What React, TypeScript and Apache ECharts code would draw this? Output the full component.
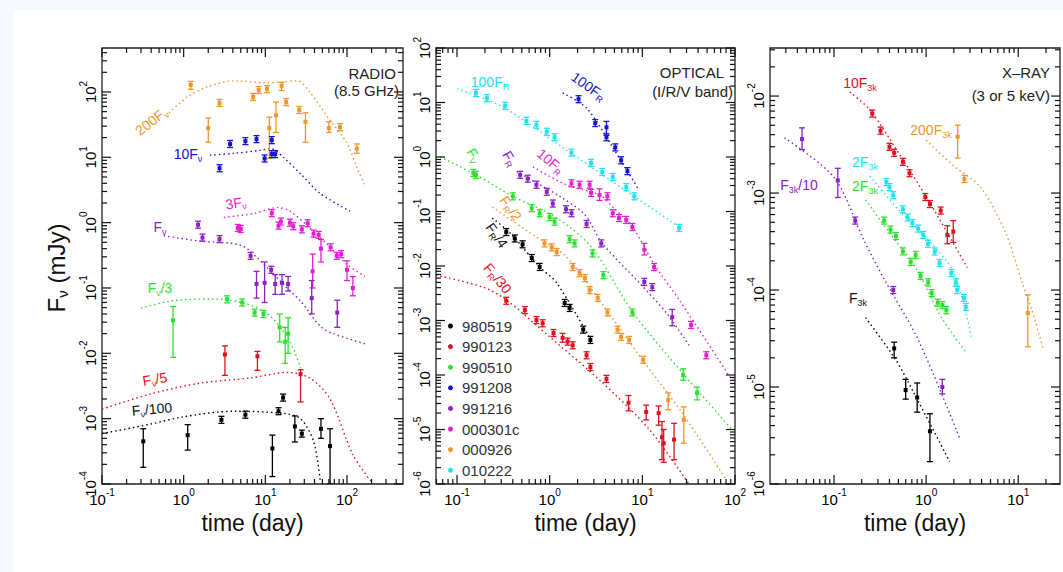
import React, { useEffect, useRef } from 'react';
import * as echarts from 'echarts';

const FONT = '"Liberation Sans", Arial, Helvetica, sans-serif';

// ---------- datasets ----------
const GRB_NAMES = ['980519', '990123', '990510', '991208', '991216', '000301c', '000926', '010222'];
const GRB_COLORS = ['#000000', '#e0101e', '#2ee02e', '#1414d0', '#8a22c4', '#e41ed0', '#f0962a', '#22e2f0'];

// axis ranges [min, max]
const RADIO_X = [0.1, 485];
const RADIO_Y = [1e-4, 471];
const OPT_X = [0.0593, 100];
const OPT_Y = [1e-6, 100];
const XR_X = [0.0202, 28.4];
const XR_Y = [1e-6, 0.0313];

// ---- RADIO (8.5 GHz) : curves [t, F], points [t, F, lo, hi]
const radio_000926_curve = [[0.66, 48], [1.12, 84], [1.96, 120], [4.1, 148], [10.5, 138], [16.6, 143], [24.6, 148], [35, 100], [62, 37], [100, 16.5], [132, 7], [166, 3.7]];
const radio_000926_pts = [[1.22, 128, 110, 145], [2.75, 68], [2.0, 28, 17, 40], [7.1, 84], [8.3, 107], [10.5, 112, 98, 125], [15.8, 124, 105, 140], [18, 70], [11.2, 28, 9.6, 41], [13.5, 44, 24, 70], [26, 53], [31, 35, 17, 48], [60, 28, 24, 35], [82, 29], [132, 13.5, 11.5, 16]];
const radio_991208_curve = [[2.1, 10.8], [4.1, 11.5], [8.7, 12.8], [11.5, 13.7], [16.6, 10], [26.6, 5.7], [47, 2.8], [109, 1.5]];
const radio_991208_pts = [[2.75, 6.8], [3.7, 16], [5.7, 17.7], [7.8, 19], [9.8, 9.6], [12, 18.3], [12, 11.2], [13.2, 11.2]];
const radio_000301c_curve = [[3.1, 1.2], [7.1, 1.38], [14, 1.7], [20, 1.5], [35, 0.83], [62, 0.42], [100, 0.23], [166, 0.15]];
const radio_000301c_pts = [[4.6, 0.83], [5.0, 0.8], [12, 1.4], [14.5, 0.9], [15.5, 1.04], [20, 1.0], [22, 0.88], [28, 0.79], [33, 0.98], [39, 0.68], [45, 0.65], [48, 0.4, 0.25, 0.55], [63, 0.42], [75, 0.31], [85, 0.33], [100, 0.19, 0.13, 0.26], [38, 0.18, 0.1, 0.33], [118, 0.1, 0.076, 0.15]];
const radio_991216_curve = [[0.57, 0.63], [1.6, 0.52], [5, 0.45], [8.7, 0.26], [17, 0.11], [27, 0.063], [47, 0.026], [68, 0.02], [166, 0.014]];
const radio_991216_pts = [[1.5, 0.93], [1.7, 0.59], [2.75, 0.56], [6.6, 0.31], [7.8, 0.115, 0.07, 0.18], [9.8, 0.12, 0.06, 0.25], [11.8, 0.19], [13.2, 0.115, 0.08, 0.16], [16, 0.12, 0.08, 0.16], [19, 0.115, 0.09, 0.15], [37, 0.07, 0.04, 0.13], [76, 0.042, 0.025, 0.065]];
const radio_990510_curve = [[0.3, 0.049], [0.69, 0.063], [2.1, 0.068], [5.7, 0.058], [11.5, 0.037], [20, 0.015], [27, 0.006]];
const radio_990510_pts = [[0.74, 0.032, 0.0087, 0.052], [3.4, 0.067], [5.2, 0.06], [7.4, 0.042], [9.5, 0.04], [15, 0.025, 0.015, 0.04], [17.5, 0.015, 0.007, 0.025], [19, 0.02, 0.01, 0.035]];
const radio_990123_curve = [[0.1, 0.0014], [0.4, 0.0024], [1.6, 0.0035], [6.6, 0.0042], [18.6, 0.0051], [35, 0.0042], [62, 0.002], [118, 0.00028], [200, 0.000107]];
const radio_990123_pts = [[3.2, 0.0096, 0.0046, 0.013], [8, 0.009, 0.0055, 0.0107], [27, 0.0048, 0.0018, 0.0056]];
const radio_980519_curve = [[0.1, 0.00059], [0.4, 0.00083], [1, 0.00107], [4.1, 0.0013], [17, 0.0012], [27, 0.001], [39, 0.00045], [47, 0.00011]];
const radio_980519_pts = [[0.32, 0.00045, 0.00018, 0.0007], [1.12, 0.00056, 0.00033, 0.00081], [2.9, 0.00096], [5.7, 0.00115], [14.5, 0.0013], [16.5, 0.0021], [12.2, 0.00035, 0.00013, 0.00056], [23, 0.00076, 0.00044, 0.0011], [28, 0.00059], [48, 0.0007, 0.0005, 0.001], [62, 0.00038, 0.0001, 0.0007]];

// ---- OPTICAL (I/R/V band)
const opt_010222_curve = [[0.1, 17.8], [0.31, 8.3], [1.38, 1.5], [4.8, 0.35], [25, 0.052]];
const opt_010222_pts = [[0.16, 15], [0.21, 12], [0.33, 8.7], [0.56, 4.6], [0.72, 3.9], [0.93, 2.9], [1.13, 2.3], [1.72, 1.2], [2.8, 0.78], [3.7, 0.53], [4.8, 0.43], [6.7, 0.28], [8.2, 0.19], [25, 0.05]];
const opt_991208_curve = [[1.38, 15], [2.5, 7.9], [4.8, 1.5], [8.9, 0.27]];
const opt_991208_pts = [[2.05, 11.5], [3.1, 4.2], [4.1, 3.5, 2.5, 4.5], [4.1, 2.3], [5.1, 1.5], [5.9, 0.87], [6.9, 0.55]];
const opt_991216_curve = [[0.44, 0.54], [1.28, 0.19], [2.4, 0.087], [3.7, 0.026], [9.3, 0.0049], [18, 0.0014], [32, 0.00035]];
const opt_991216_pts = [[0.48, 0.47], [0.58, 0.4], [0.72, 0.31], [0.93, 0.23], [1.08, 0.14], [1.5, 0.11], [1.72, 0.093], [2.5, 0.059], [3.6, 0.026], [10.5, 0.0051], [12.8, 0.0041], [21, 0.00115, 0.0008, 0.0016]];
const opt_000301c_curve = [[0.66, 0.66], [1.5, 0.31], [3.45, 0.2], [4.8, 0.12], [7.8, 0.052], [14, 0.0096], [25, 0.0024], [93, 0.00008]];
const opt_000301c_pts = [[1.72, 0.33], [2.1, 0.31], [2.7, 0.31], [2.8, 0.22], [3.45, 0.2, 0.16, 0.26], [4.2, 0.19], [4.8, 0.093], [5.6, 0.076], [6.7, 0.07], [7.8, 0.052], [10.5, 0.02, 0.016, 0.026], [13.4, 0.0096], [33.6, 0.00083], [49, 0.00023]];
const opt_990510_curve = [[0.0593, 1.1], [0.16, 0.47], [0.4, 0.19], [1.2, 0.076], [2.9, 0.021], [7.8, 0.00145], [27, 0.00011], [93, 0.00001]];
const opt_990510_pts = [[0.15, 0.51], [0.16, 0.47], [0.4, 0.19], [0.64, 0.115], [0.78, 0.093], [1.0, 0.079], [1.13, 0.065], [1.64, 0.031], [1.86, 0.026], [2.9, 0.017], [3.8, 0.0068], [7.8, 0.0014], [27.6, 0.0001, 0.00008, 0.00013], [39, 0.000047, 0.000035, 0.00006]];
const opt_000926_curve = [[0.24, 0.12], [0.72, 0.034], [1.5, 0.015], [4.1, 0.00155], [10, 0.00019], [27, 0.00002], [80, 0.0000012]];
const opt_000926_pts = [[0.88, 0.026], [1.05, 0.022], [1.19, 0.018], [1.77, 0.0096], [2.1, 0.0074], [2.4, 0.006], [2.7, 0.0036], [3.3, 0.0026], [4.2, 0.0014], [5.4, 0.00068], [5.9, 0.0005], [7.2, 0.00044], [10.2, 0.00019], [19, 0.000035, 0.000023, 0.000047], [28, 0.000015, 0.0000056, 0.000026]];
const opt_980519_curve = [[0.24, 0.076], [0.37, 0.041], [0.78, 0.0096], [1.19, 0.0049], [2.9, 0.00039]];
const opt_980519_pts = [[0.34, 0.042], [0.42, 0.032], [0.51, 0.025], [0.64, 0.014], [0.78, 0.0096], [1.45, 0.0021], [1.64, 0.0017], [2.3, 0.00068], [2.75, 0.00044]];
const opt_990123_curve = [[0.0593, 0.0068], [0.19, 0.0041], [0.34, 0.0024], [1.0, 0.0005], [3.45, 0.000081], [11.9, 0.00001], [31.8, 0.000001]];
const opt_990123_pts = [[0.34, 0.0023], [0.54, 0.00155], [0.72, 0.00102], [0.84, 0.00089], [1.1, 0.00059], [1.38, 0.00048, 0.0004, 0.00058], [1.56, 0.00041], [1.77, 0.00035], [2.5, 0.00023], [2.75, 0.00014], [4.1, 0.000085], [7.1, 0.000031, 0.000022, 0.000042], [11, 0.000021, 0.000015, 0.000028], [15, 0.00002, 0.000012, 0.000027], [16.3, 0.0000072, 0.0000028, 0.000014], [17, 0.0000056, 0.0000025, 0.00001], [22, 0.0000065, 0.0000028, 0.000013]];

// ---- X-RAY (3 or 5 keV)
const xr_990123_curve = [[0.148, 0.011], [0.245, 0.0072], [0.56, 0.0022], [1.05, 0.00085], [1.88, 0.00033], [2.8, 0.00017]];
const xr_990123_pts = [[0.26, 0.0066], [0.32, 0.0044], [0.4, 0.003], [0.45, 0.0026], [0.56, 0.0021], [0.66, 0.0016], [0.98, 0.00091], [1.1, 0.00077], [1.44, 0.00066], [1.7, 0.00037, 0.0003, 0.00046], [1.97, 0.0004, 0.00031, 0.00052]];
const xr_000926_curve = [[1.0, 0.0035], [2.0, 0.0019], [3.9, 0.00115], [7.3, 0.00039], [11, 0.00012], [14, 0.000063], [18.8, 0.000024]];
const xr_000926_pts = [[2.2, 0.0038, 0.0023, 0.005], [2.6, 0.0014], [12.7, 0.000058, 0.000026, 0.000089]];
const xr_010222_curve = [[0.245, 0.0015], [0.47, 0.00072], [1.05, 0.00033], [2.0, 0.00015], [3.1, 0.000033]];
const xr_010222_pts = [[0.37, 0.0013], [0.4, 0.00115], [0.44, 0.00095], [0.56, 0.00068], [0.63, 0.00056], [0.71, 0.00049], [0.82, 0.00043], [0.93, 0.00037], [1.05, 0.0003], [1.24, 0.00025], [1.4, 0.00019], [1.88, 0.00015], [2.1, 0.00012], [2.17, 0.0001], [2.57, 0.000083], [2.7, 0.000067]];
const xr_990510_curve = [[0.22, 0.00085], [0.4, 0.00039], [0.77, 0.00017], [1.47, 0.000052], [2.7, 0.000023]];
const xr_990510_pts = [[0.35, 0.00052], [0.41, 0.00042], [0.47, 0.00036], [0.56, 0.00025], [0.68, 0.000195], [0.77, 0.00023], [0.87, 0.00014], [1.05, 0.00012], [1.15, 0.000093], [1.34, 0.000074], [1.5, 0.00007], [1.66, 0.000062]];
const xr_991216_curve = [[0.029, 0.0037], [0.1, 0.00145], [0.21, 0.00033], [0.35, 0.00013], [0.83, 0.00003], [2.3, 0.000003]];
const xr_991216_pts = [[0.045, 0.0036, 0.0028, 0.0047], [0.11, 0.00135, 0.0009, 0.0018], [0.17, 0.00052], [0.44, 0.0001], [1.5, 0.00001, 0.0000085, 0.000012]];
const xr_980519_curve = [[0.22, 0.000052], [0.47, 0.000019], [0.71, 0.0000093], [1.8, 0.0000017]];
const xr_980519_pts = [[0.45, 0.000025, 0.00002, 0.000029], [0.6, 0.0000093, 0.0000075, 0.000012], [0.8, 0.0000078, 0.0000055, 0.000011], [1.1, 0.0000035, 0.0000017, 0.0000053]];

// tick label exponents are derived from axis values
function powLabel(v: number): string {
  const e = Math.log10(v);
  const r = Math.round(e);
  if (Math.abs(e - r) > 1e-4) return '';
  return '{b|10}{s|' + (r < 0 ? '-' + -r : '' + r) + '}';
}
const AX_RICH = {
  b: { fontSize: 15, fontFamily: FONT, color: '#000', lineHeight: 20, verticalAlign: 'bottom' },
  s: { fontSize: 10, fontFamily: FONT, color: '#000', lineHeight: 11, verticalAlign: 'top' },
};

function tickData(xr: number[], yr: number[]) {
  const out: number[][] = [];
  const push = (r: number[], kind: number) => {
    for (let d = Math.floor(Math.log10(r[0])) - 1; d <= Math.ceil(Math.log10(r[1])); d++) {
      for (let m = 1; m <= 9; m++) {
        const v = m * Math.pow(10, d);
        if (v >= r[0] * 0.9999 && v <= r[1] * 1.0001) {
          out.push(kind === 0 ? [v, yr[0], 0, m === 1 ? 1 : 0] : [xr[0], v, 1, m === 1 ? 1 : 0]);
        }
      }
    }
  };
  push(xr, 0);
  push(yr, 1);
  return out;
}

function renderTick(params: any, api: any) {
  const cs = params.coordSys;
  const p = api.coord([api.value(0), api.value(1)]);
  const len = api.value(3) ? 9 : 5;
  const st = { stroke: '#111', lineWidth: 1.2 };
  if (api.value(2) === 0) {
    const x = p[0];
    const b = cs.y + cs.height;
    return {
      type: 'group', children: [
        { type: 'line', shape: { x1: x, y1: b, x2: x, y2: b - len }, style: st },
        { type: 'line', shape: { x1: x, y1: cs.y, x2: x, y2: cs.y + len }, style: st },
      ],
    };
  }
  const y = p[1];
  const r = cs.x + cs.width;
  return {
    type: 'group', children: [
      { type: 'line', shape: { x1: cs.x, y1: y, x2: cs.x + len, y2: y }, style: st },
      { type: 'line', shape: { x1: r, y1: y, x2: r - len, y2: y }, style: st },
    ],
  };
}

function renderPoint(color: string) {
  return (params: any, api: any) => {
    const t = api.value(0), f = api.value(1), lo = api.value(2), hi = api.value(3);
    const p = api.coord([t, f]);
    let y1 = p[1] - 3.5, y2 = p[1] + 3.5;
    if (lo > 0 && hi > 0) {
      y1 = api.coord([t, hi])[1];
      y2 = api.coord([t, lo])[1];
    }
    const st = { stroke: color, lineWidth: 1.3 };
    return {
      type: 'group', children: [
        { type: 'line', shape: { x1: p[0], y1, x2: p[0], y2 }, style: st },
        { type: 'line', shape: { x1: p[0] - 3, y1, x2: p[0] + 3, y2: y1 }, style: st },
        { type: 'line', shape: { x1: p[0] - 3, y1: y2, x2: p[0] + 3, y2 }, style: st },
        { type: 'rect', shape: { x: p[0] - 2, y: p[1] - 2, width: 4, height: 4 }, style: { fill: color } },
      ],
    };
  };
}

function colorOf(name: string) {
  return GRB_COLORS[GRB_NAMES.indexOf(name)];
}

function curveSeries(gi: number, name: string, data: number[][]) {
  return {
    type: 'line', name, xAxisIndex: gi, yAxisIndex: gi, data, showSymbol: false, smooth: 0.3,
    silent: true, z: 2,
    lineStyle: { color: colorOf(name), width: 1.4, type: [1.5, 3] },
    itemStyle: { color: colorOf(name) },
  };
}
function pointSeries(gi: number, name: string, data: number[][]) {
  return {
    type: 'custom', name, xAxisIndex: gi, yAxisIndex: gi, clip: true, z: 3,
    data: data.map((p) => [p[0], p[1], p[2] || 0, p[3] || 0]),
    encode: { x: 0, y: 1 },
    itemStyle: { color: colorOf(name) },
    renderItem: renderPoint(colorOf(name)),
  };
}

function lab(x: number, y: number, parts: [string, string][], color: string, rot = 0, size = 14) {
  const text = parts.map(([t, k]) => '{' + k + '|' + t + '}').join('');
  const sub = Math.round(size * 0.64);
  return {
    type: 'text', x, y, rotation: (rot * Math.PI) / 180, z: 50,
    style: {
      text, align: 'center', verticalAlign: 'middle', textAlign: 'center', textVerticalAlign: 'middle',
      fill: color, font: size + 'px ' + FONT,
      rich: {
        n: { fontSize: size, fontFamily: FONT, fill: color, lineHeight: size + 2, verticalAlign: 'top' },
        s: { fontSize: sub, fontFamily: FONT, fill: color, lineHeight: sub + 1, verticalAlign: 'bottom' },
      },
    },
  };
}

const NU = 'ν';

export default function App() {
  const ref = useRef<HTMLDivElement>(null);
  useEffect(() => {
    if (!ref.current) return;
    const chart = echarts.init(ref.current, undefined, { renderer: 'svg' });
    const grids = [
      { left: 102, top: 48, width: 301, height: 436 },
      { left: 436, top: 48, width: 299, height: 436 },
      { left: 770, top: 48, width: 299, height: 436 },
    ];
    const ranges = [[RADIO_X, RADIO_Y], [OPT_X, OPT_Y], [XR_X, XR_Y]];
    const xAxis = ranges.map((r, i) => ({
      type: 'log', logBase: 10, gridIndex: i, min: r[0][0], max: r[0][1],
      axisLine: { show: false }, axisTick: { show: false }, splitLine: { show: false },
      axisLabel: { formatter: powLabel, rich: AX_RICH, margin: 3, color: '#000' },
      name: 'time (day)', nameLocation: 'middle', nameGap: 27,
      nameTextStyle: { fontSize: 23, color: '#111', fontFamily: FONT },
    }));
    const yAxis = ranges.map((r, i) => ({
      type: 'log', logBase: 10, gridIndex: i, min: r[1][0], max: r[1][1],
      axisLine: { show: false }, axisTick: { show: false }, splitLine: { show: false },
      axisLabel: { formatter: powLabel, rich: AX_RICH, margin: 4, rotate: 90, color: '#000' },
    }));

    const series: any[] = [];
    ranges.forEach((r, i) => {
      series.push({
        type: 'custom', xAxisIndex: i, yAxisIndex: i, clip: false, silent: true, z: 5,
        data: tickData(r[0], r[1]), encode: { x: 0, y: 1 }, renderItem: renderTick,
      });
    });
    const panels: [number, string, number[][], number[][]][] = [
      [0, '000926', radio_000926_curve, radio_000926_pts],
      [0, '991208', radio_991208_curve, radio_991208_pts],
      [0, '000301c', radio_000301c_curve, radio_000301c_pts],
      [0, '991216', radio_991216_curve, radio_991216_pts],
      [0, '990510', radio_990510_curve, radio_990510_pts],
      [0, '990123', radio_990123_curve, radio_990123_pts],
      [0, '980519', radio_980519_curve, radio_980519_pts],
      [1, '010222', opt_010222_curve, opt_010222_pts],
      [1, '991208', opt_991208_curve, opt_991208_pts],
      [1, '991216', opt_991216_curve, opt_991216_pts],
      [1, '000301c', opt_000301c_curve, opt_000301c_pts],
      [1, '990510', opt_990510_curve, opt_990510_pts],
      [1, '000926', opt_000926_curve, opt_000926_pts],
      [1, '980519', opt_980519_curve, opt_980519_pts],
      [1, '990123', opt_990123_curve, opt_990123_pts],
      [2, '990123', xr_990123_curve, xr_990123_pts],
      [2, '000926', xr_000926_curve, xr_000926_pts],
      [2, '010222', xr_010222_curve, xr_010222_pts],
      [2, '990510', xr_990510_curve, xr_990510_pts],
      [2, '991216', xr_991216_curve, xr_991216_pts],
      [2, '980519', xr_980519_curve, xr_980519_pts],
    ];
    panels.forEach(([gi, name, c, p]) => {
      series.push(curveSeries(gi, name, c));
      series.push(pointSeries(gi, name, p));
    });

    const C = (n: string) => colorOf(n);
    const head = (x: number, y: number, text: string) => ({
      type: 'text', x, y, z: 50,
      style: { text, font: '15px ' + FONT, fill: '#222', align: 'right', verticalAlign: 'middle', textAlign: 'right', textVerticalAlign: 'middle' },
    });
    const graphic: any[] = [
      head(396, 73, 'RADIO'),
      head(399, 90, '(8.5 GHz)'),
      head(724, 72, 'OPTICAL'),
      head(733, 91, '(I/R/V band)'),
      head(1050, 72, 'X\u2013RAY'),
      head(1050, 95, '(3 or 5 keV)'),
      // y axis title
      lab(57, 268, [['F', 'n'], [NU, 's'], [' (mJy)', 'n']], '#111', 90, 24),
      // radio labels
      lab(152, 122, [['200F', 'n'], [NU, 's']], C('000926'), 38),
      lab(188, 155, [['10F', 'n'], [NU, 's']], C('991208')),
      lab(236, 204, [['3F', 'n'], [NU, 's']], C('000301c'), 8),
      lab(160, 228, [['F', 'n'], [NU, 's']], C('991216')),
      lab(160, 289, [['F', 'n'], [NU, 's'], ['/3', 'n']], C('990510')),
      lab(155, 380, [['F', 'n'], [NU, 's'], ['/5', 'n']], C('990123'), 10),
      lab(152, 410, [['F', 'n'], [NU, 's'], ['/100', 'n']], '#111', 5),
      // optical labels
      lab(490, 83, [['100F', 'n'], ['R', 's']], C('010222')),
      lab(588, 87, [['100F', 'n'], ['R', 's']], C('991208'), -35),
      lab(473, 156, [['F', 'n'], ['V', 's']], C('990510'), -60),
      lab(509, 159, [['F', 'n'], ['R', 's']], C('991216'), -60),
      lab(550, 162, [['10F', 'n'], ['R', 's']], C('000301c'), -40),
      lab(510, 209, [['F', 'n'], ['R', 's'], ['/2', 'n']], C('000926'), -55),
      lab(496, 236, [['F', 'n'], ['R', 's'], ['/4', 'n']], '#111', -55),
      lab(497, 279, [['F', 'n'], ['R', 's'], ['/30', 'n']], C('990123'), -50),
      // x-ray labels
      lab(860, 84, [['10F', 'n'], ['3k', 's']], C('990123')),
      lab(931, 131, [['200F', 'n'], ['3k', 's']], C('000926')),
      lab(865, 163, [['2F', 'n'], ['3k', 's']], C('010222')),
      lab(865, 187, [['2F', 'n'], ['3k', 's']], C('990510')),
      lab(799, 186, [['F', 'n'], ['3k', 's'], ['/10', 'n']], C('991216')),
      lab(858, 299, [['F', 'n'], ['3k', 's']], '#111'),
    ];

    chart.setOption({
      animation: false,
      backgroundColor: 'transparent',
      textStyle: { fontFamily: FONT },
      grid: grids.map((g) => ({ ...g, show: true, borderColor: '#222', borderWidth: 1.3, backgroundColor: 'transparent' })),
      xAxis, yAxis, series, graphic,
      legend: {
        left: 443, top: 313, orient: 'vertical', itemWidth: 5, itemHeight: 5, itemGap: 4.6, icon: 'circle',
        textStyle: { fontSize: 15, color: '#333', fontFamily: FONT, lineHeight: 16, padding: [0, 0, 0, 4] },
        selectedMode: false,
        data: GRB_NAMES.map((n, i) => ({ name: n, itemStyle: { color: GRB_COLORS[i] } })),
      },
    });
    return () => chart.dispose();
  }, []);

  return (
    <div style={{ position: 'fixed', left: 0, top: 0, width: 1063, height: 572, background: '#f5f8fc', overflow: 'hidden' }}>
      <div style={{ position: 'absolute', left: 14, top: 10, right: 0, bottom: 0, background: '#ffffff' }} />
      <div ref={ref} style={{ position: 'absolute', left: 0, top: 0, width: 1063, height: 572 }} />
    </div>
  );
}
